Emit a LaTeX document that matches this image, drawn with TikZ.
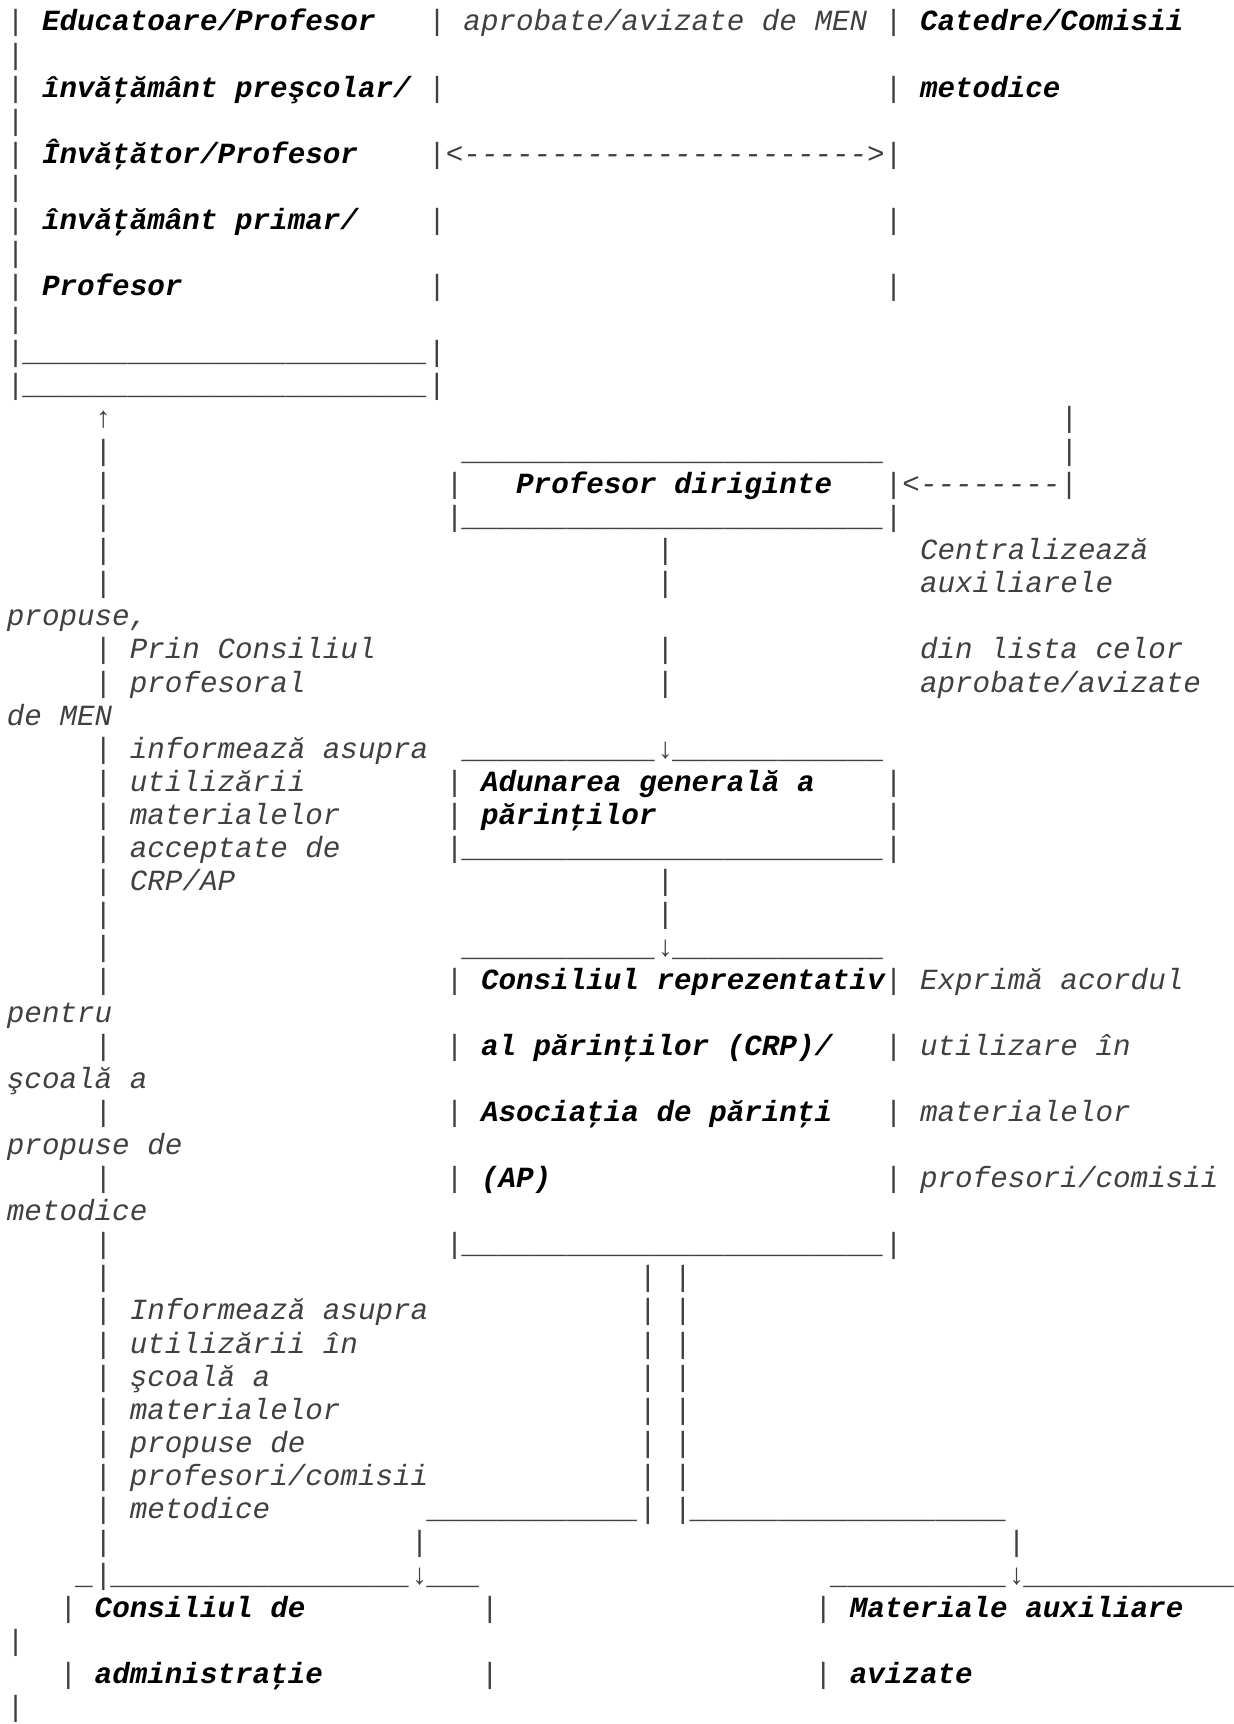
\documentclass[tikz,border=0pt]{standalone}
\usepackage{fontspec}
\setmonofont{Liberation Mono}
\ExplSyntaxOn
\NewDocumentCommand\rep{mm}{\prg_replicate:nn{#1}{#2}}
\ExplSyntaxOff
\def\lmar{6.9}
\def\colw{17.56}
\def\basey{31}
\def\lineh{33.05}
\newcommand\sg[4][]{\node[sg,#1] (n#2c#3) at ({\lmar+#3*\colw},{\basey+#2*\lineh}) {#4};}
\tikzset{
  sg/.style={anchor=base west, inner sep=0pt, outer sep=0pt,
    font=\ttfamily\itshape\fontsize{14.63}{16}\selectfont, text=black!75},
  bd/.style={font=\ttfamily\bfseries\itshape\fontsize{14.63}{16}\selectfont, text=black}
}
\begin{document}
\begin{tikzpicture}[x=0.5pt,y=-0.5pt]
\fill[white] (0,0) rectangle (1234,1724);
\useasboundingbox (0,0) rectangle (1234,1724);
% top box
\sg{0}{0}{|}\sg[bd]{0}{2}{Educatoare/Profesor}\sg{0}{24}{|}\sg{0}{26}{aprobate/avizate de MEN}\sg{0}{50}{|}\sg[bd]{0}{52}{Catedre/Comisii}
\sg{1}{0}{|}
\sg{2}{0}{|}\sg[bd]{2}{2}{învăţământ preşcolar/}\sg{2}{24}{|}\sg{2}{50}{|}\sg[bd]{2}{52}{metodice}
\sg{3}{0}{|}
\sg{4}{0}{|}\sg[bd]{4}{2}{Învăţător/Profesor}\sg{4}{24}{|<\rep{23}{-}>|}
\sg{5}{0}{|}
\sg{6}{0}{|}\sg[bd]{6}{2}{învăţământ primar/}\sg{6}{24}{|}\sg{6}{50}{|}
\sg{7}{0}{|}
\sg{8}{0}{|}\sg[bd]{8}{2}{Profesor}\sg{8}{24}{|}\sg{8}{50}{|}
\sg{9}{0}{|}
\sg{10}{0}{|\rep{23}{\_}|}
\sg{11}{0}{|\rep{23}{\_}|}
% profesor diriginte
\sg{12}{5}{\upshape ↑}\sg{12}{60}{|}
\sg{13}{5}{|}\sg{13}{26}{\rep{24}{\_}}\sg{13}{60}{|}
\sg{14}{5}{|}\sg{14}{25}{|}\sg[bd]{14}{29}{Profesor diriginte}\sg{14}{50}{|<\rep{8}{-}|}
\sg{15}{5}{|}\sg{15}{25}{|\rep{24}{\_}|}
\sg{16}{5}{|}\sg{16}{37}{|}\sg{16}{52}{Centralizează}
\sg{17}{5}{|}\sg{17}{37}{|}\sg{17}{52}{auxiliarele}
\sg{18}{0}{propuse,}
\sg{19}{5}{|}\sg{19}{7}{Prin Consiliul}\sg{19}{37}{|}\sg{19}{52}{din lista celor}
\sg{20}{5}{|}\sg{20}{7}{profesoral}\sg{20}{37}{|}\sg{20}{52}{aprobate/avizate}
\sg{21}{0}{de MEN}
% adunarea generala
\sg{22}{5}{|}\sg{22}{7}{informează asupra}\sg{22}{26}{\rep{11}{\_}{\upshape ↓}\rep{12}{\_}}
\sg{23}{5}{|}\sg{23}{7}{utilizării}\sg{23}{25}{|}\sg[bd]{23}{27}{Adunarea generală a}\sg{23}{50}{|}
\sg{24}{5}{|}\sg{24}{7}{materialelor}\sg{24}{25}{|}\sg[bd]{24}{27}{părinţilor}\sg{24}{50}{|}
\sg{25}{5}{|}\sg{25}{7}{acceptate de}\sg{25}{25}{|\rep{24}{\_}|}
\sg{26}{5}{|}\sg{26}{7}{CRP/AP}\sg{26}{37}{|}
\sg{27}{5}{|}\sg{27}{37}{|}
% consiliul reprezentativ
\sg{28}{5}{|}\sg{28}{26}{\rep{11}{\_}{\upshape ↓}\rep{12}{\_}}
\sg{29}{5}{|}\sg{29}{25}{|}\sg[bd]{29}{27}{Consiliul reprezentativ}\sg{29}{50}{|}\sg{29}{52}{Exprimă acordul}
\sg{30}{0}{pentru}
\sg{31}{5}{|}\sg{31}{25}{|}\sg[bd]{31}{27}{al părinţilor (CRP)/}\sg{31}{50}{|}\sg{31}{52}{utilizare în}
\sg{32}{0}{şcoală a}
\sg{33}{5}{|}\sg{33}{25}{|}\sg[bd]{33}{27}{Asociaţia de părinţi}\sg{33}{50}{|}\sg{33}{52}{materialelor}
\sg{34}{0}{propuse de}
\sg{35}{5}{|}\sg{35}{25}{|}\sg[bd]{35}{27}{(AP)}\sg{35}{50}{|}\sg{35}{52}{profesori/comisii}
\sg{36}{0}{metodice}
\sg{37}{5}{|}\sg{37}{25}{|\rep{24}{\_}|}
% lower part
\sg{38}{5}{|}\sg{38}{36}{|}\sg{38}{38}{|}
\sg{39}{5}{|}\sg{39}{7}{Informează asupra}\sg{39}{36}{|}\sg{39}{38}{|}
\sg{40}{5}{|}\sg{40}{7}{utilizării în}\sg{40}{36}{|}\sg{40}{38}{|}
\sg{41}{5}{|}\sg{41}{7}{şcoală a}\sg{41}{36}{|}\sg{41}{38}{|}
\sg{42}{5}{|}\sg{42}{7}{materialelor}\sg{42}{36}{|}\sg{42}{38}{|}
\sg{43}{5}{|}\sg{43}{7}{propuse de}\sg{43}{36}{|}\sg{43}{38}{|}
\sg{44}{5}{|}\sg{44}{7}{profesori/comisii}\sg{44}{36}{|}\sg{44}{38}{|}
\sg{45}{5}{|}\sg{45}{7}{metodice}\sg{45}{24}{\rep{12}{\_}|}\sg{45}{38}{|\rep{18}{\_}}
\sg{46}{5}{|}\sg{46}{23}{|}\sg{46}{57}{|}
\sg{47}{4}{\_|\rep{17}{\_}{\upshape ↓}\rep{3}{\_}}\sg{47}{47}{\rep{10}{\_}{\upshape ↓}\rep{12}{\_}}
\sg{48}{3}{|}\sg[bd]{48}{5}{Consiliul de}\sg{48}{27}{|}\sg{48}{46}{|}\sg[bd]{48}{48}{Materiale auxiliare}
\sg{49}{0}{|}
\sg{50}{3}{|}\sg[bd]{50}{5}{administraţie}\sg{50}{27}{|}\sg{50}{46}{|}\sg[bd]{50}{48}{avizate}
\sg{51}{0}{|}
\end{tikzpicture}
\end{document}
